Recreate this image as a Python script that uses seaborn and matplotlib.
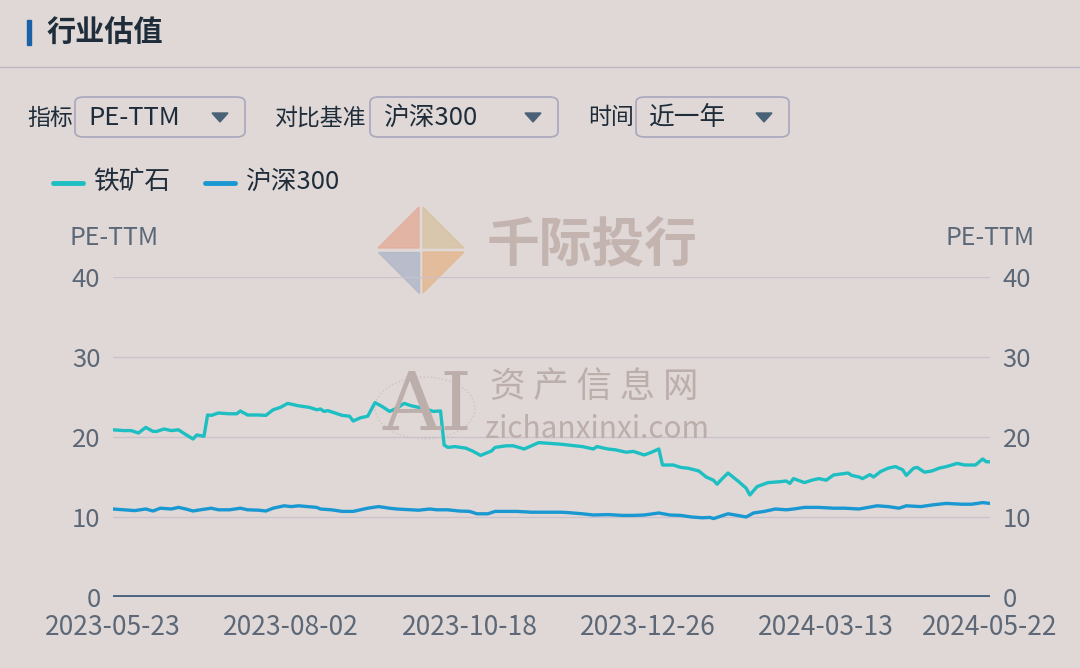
import numpy as np
import pandas as pd
import matplotlib.pyplot as plt
import seaborn as sns
from matplotlib.patches import FancyBboxPatch, Polygon, Rectangle, Circle
from matplotlib.lines import Line2D

# ---------------- data ----------------
tick_days = [0, 49, 98, 147, 196, 241]
tick_dates = ['2023-05-23', '2023-08-02', '2023-10-18', '2023-12-26', '2024-03-13', '2024-05-22']

# 铁矿石 PE-TTM (trading-day index, value)
ore_day = [0, 3, 5, 7, 9, 11, 12, 14, 16, 18, 20, 22, 23, 25, 26, 27, 29, 32, 34, 35,
           37, 40, 42, 44, 46, 48, 51, 54, 56, 57, 58, 59, 61, 63, 65, 66, 68, 70, 72, 74,
           76, 78, 80, 82, 86, 88, 90, 91, 92, 94, 97, 99, 101, 104, 105, 108, 110, 113, 115, 117,
           120, 123, 125, 129, 132, 133, 136, 138, 141, 143, 146, 148, 150, 151, 154, 156, 158, 161, 163, 165,
           166, 167, 169, 172, 174, 175, 177, 180, 183, 185, 186, 187, 190, 192, 194, 196, 198, 202, 203, 205,
           206, 208, 209, 211, 213, 215, 217, 218, 220, 221, 223, 225, 227, 229, 232, 234, 237, 239, 240, 241]
ore_pe = [20.9, 20.8, 20.8, 20.5, 21.2, 20.7, 20.7, 21.0, 20.8, 20.9, 20.3, 19.75, 20.25, 20.1, 22.75, 22.7, 23.0, 22.9, 22.9, 23.25,
          22.75, 22.75, 22.7, 23.4, 23.7, 24.2, 23.9, 23.7, 23.4, 23.5, 23.2, 23.3, 23.0, 22.7, 22.6, 22.0, 22.4, 22.6, 24.3, 23.8,
          23.2, 23.6, 24.2, 23.9, 23.5, 23.2, 23.25, 19.0, 18.7, 18.8, 18.6, 18.2, 17.7, 18.25, 18.7, 18.9, 18.9, 18.5, 18.9, 19.3,
          19.2, 19.1, 19.0, 18.8, 18.5, 18.8, 18.5, 18.4, 18.1, 18.2, 17.75, 18.1, 18.5, 16.5, 16.5, 16.2, 16.1, 15.75, 15.0, 14.6,
          14.1, 14.6, 15.5, 14.4, 13.6, 12.75, 13.8, 14.3, 14.4, 14.5, 14.2, 14.8, 14.3, 14.6, 14.8, 14.6, 15.25, 15.5, 15.2, 15.0,
          14.8, 15.3, 15.0, 15.7, 16.1, 16.3, 15.9, 15.2, 16.1, 16.2, 15.6, 15.75, 16.1, 16.3, 16.7, 16.5, 16.5, 17.25, 16.9, 16.9]

# 沪深300 PE-TTM
hs_day = [0, 3, 6, 9, 11, 13, 16, 18, 20, 22, 24, 27, 29, 32, 35, 37, 40, 42, 44, 47,
          49, 51, 56, 57, 60, 63, 66, 68, 70, 73, 76, 78, 82, 84, 87, 89, 92, 95, 98, 100,
          103, 105, 108, 111, 115, 119, 123, 125, 129, 132, 136, 140, 143, 146, 150, 153, 156, 159, 162, 164,
          165, 169, 171, 174, 176, 179, 182, 185, 187, 190, 194, 198, 201, 205, 210, 213, 216, 218, 222, 225,
          229, 233, 236, 239, 241]
hs_pe = [11.0, 10.9, 10.8, 11.0, 10.75, 11.1, 11.0, 11.2, 11.0, 10.75, 10.9, 11.1, 10.9, 10.9, 11.1, 10.9, 10.85, 10.75, 11.1, 11.4,
         11.3, 11.4, 11.2, 11.0, 10.9, 10.7, 10.7, 10.9, 11.1, 11.3, 11.1, 11.0, 10.9, 10.85, 11.0, 10.9, 10.9, 10.75, 10.7, 10.4,
         10.4, 10.7, 10.7, 10.7, 10.6, 10.6, 10.6, 10.55, 10.4, 10.25, 10.3, 10.2, 10.2, 10.25, 10.5, 10.25, 10.2, 10.0, 9.9, 9.95,
         9.8, 10.4, 10.25, 10.0, 10.5, 10.7, 11.0, 10.9, 11.0, 11.2, 11.2, 11.1, 11.1, 11.0, 11.4, 11.3, 11.1, 11.4, 11.3, 11.5,
         11.7, 11.6, 11.6, 11.8, 11.7]

y_ticks = [0, 10, 20, 30, 40]
series_names = ['铁矿石', '沪深300']

# ---------------- style ----------------
W, H = 1080, 668
BG = '#e0d8d6'
TEAL = '#1dbfc2'
BLUE = '#1a98d2'
DARK = '#1f2d3a'
TICK = '#5c6877'

sns.set_style('white')
plt.rcParams['font.family'] = ['Noto Sans CJK SC', 'DejaVu Sans']


def fx(px):
    return px / W


def fy(py):
    return 1 - py / H


fig = plt.figure(figsize=(W / 100, H / 100), dpi=100, facecolor=BG)

# header
fig.add_artist(Rectangle((fx(27), fy(45)), 4 / W, 25 / H, color='#1a62a8', transform=fig.transFigure))
fig.text(fx(47), fy(33), '行业估值', fontsize=21, fontweight='bold', color=DARK, va='center')
fig.add_artist(Line2D([0, 1], [fy(67), fy(67)], color='#bdb5c6', lw=1, transform=fig.transFigure))

# dropdown controls
controls = [('指标', 27, 'PE-TTM', 75, 245), ('对比基准', 275, '沪深300', 370, 558), ('时间', 588, '近一年', 636, 789)]
for label, lx, val, bx0, bx1 in controls:
    fig.text(fx(lx), fy(118), label, fontsize=16.5, color=DARK, va='center')
    box = FancyBboxPatch((fx(bx0), fy(137)), (bx1 - bx0) / W, 40 / H,
                         boxstyle='round,pad=0,rounding_size=0.008', transform=fig.transFigure,
                         facecolor='none', edgecolor='#a9a6bd', lw=1.2)
    fig.add_artist(box)
    fig.text(fx(bx0 + 13), fy(118), val, fontsize=18.5, color=DARK, va='center')
    cx = bx1 - 25
    tri = Polygon([(fx(cx - 8), fy(113)), (fx(cx + 8), fy(113)), (fx(cx), fy(122))],
                  closed=True, color='#4a6277', transform=fig.transFigure)
    fig.add_artist(tri)

# legend
for (x0, name, col) in [(53, series_names[0], TEAL), (205, series_names[1], BLUE)]:
    fig.add_artist(Line2D([fx(x0), fx(x0 + 30)], [fy(183), fy(183)], color=col, lw=3.5,
                          solid_capstyle='round', transform=fig.transFigure))
    fig.text(fx(x0 + 40), fy(182), name, fontsize=18.5, color=DARK, va='center')

# watermarks
logo = [([(378, 248), (419, 207), (419, 248)], '#e3ab98'),
        ([(378, 252), (419, 252), (419, 293)], '#b0b7c9'),
        ([(423, 207), (464, 248), (423, 248)], '#d8c3a3'),
        ([(423, 252), (464, 252), (423, 293)], '#e4b68e')]
for pts, col in logo:
    fig.add_artist(Polygon([(fx(a), fy(b)) for a, b in pts], closed=True, color=col,
                           alpha=0.8, transform=fig.transFigure, zorder=0))
fig.text(fx(487), fy(245), '千际投行', fontsize=38, fontweight='bold', color='#c3b4b0', va='center', zorder=0)
fig.text(fx(428), fy(408), 'AI', fontsize=58, family='DejaVu Serif', color='#bcaeab', ha='center', va='center', zorder=0)
fig.add_artist(Circle((fx(425), fy(408)), 50 / W, transform=fig.transFigure, fill=False,
                      edgecolor='#cfc3c0', lw=1, ls=':', zorder=0))
fig.text(fx(490), fy(387), '资 产 信 息 网', fontsize=25.5, color='#bcaeab', va='center', zorder=0)
fig.text(fx(485), fy(430), 'zichanxinxi.com', fontsize=21.5, color='#bcaeab', va='center', zorder=0)

# chart
ax = fig.add_axes([fx(113), fy(597), (990 - 113) / W, (597 - 277) / H])
ax.set_facecolor('none')
for v in y_ticks[1:]:
    ax.axhline(v, color='#cbc2cc', lw=1, zorder=1)
ax.axhline(0, color='#4b6580', lw=2.8, zorder=1, solid_capstyle='round')

sns.lineplot(x=ore_day, y=ore_pe, ax=ax, color=TEAL, lw=2.4, zorder=3)
sns.lineplot(x=hs_day, y=hs_pe, ax=ax, color=BLUE, lw=2.4, zorder=3)

ax.set_xlim(tick_days[0], tick_days[-1])
ax.set_ylim(0, 40)
ax.set_xticks(tick_days)
ax.set_xticklabels(tick_dates)
ax.set_yticks(y_ticks)
ax.set_yticklabels([str(v) for v in y_ticks])
ax.tick_params(axis='x', length=0, labelsize=19, colors=TICK, pad=12)
ax.tick_params(axis='y', length=0, labelsize=18.5, colors=TICK, pad=9)
for s in ax.spines.values():
    s.set_visible(False)
ax.set_xlabel('')
ax.set_ylabel('')

ax2 = ax.twinx()
ax2.set_ylim(0, 40)
ax2.set_yticks(y_ticks)
ax2.set_yticklabels([str(v) for v in y_ticks])
ax2.tick_params(axis='y', length=0, labelsize=18.5, colors=TICK, pad=9)
for s in ax2.spines.values():
    s.set_visible(False)

fig.text(fx(70), fy(238), 'PE-TTM', fontsize=18, color=TICK, va='center')
fig.text(fx(1035), fy(238), 'PE-TTM', fontsize=18, color=TICK, va='center', ha='right')

fig.savefig('out.png', dpi=100, facecolor=BG)
